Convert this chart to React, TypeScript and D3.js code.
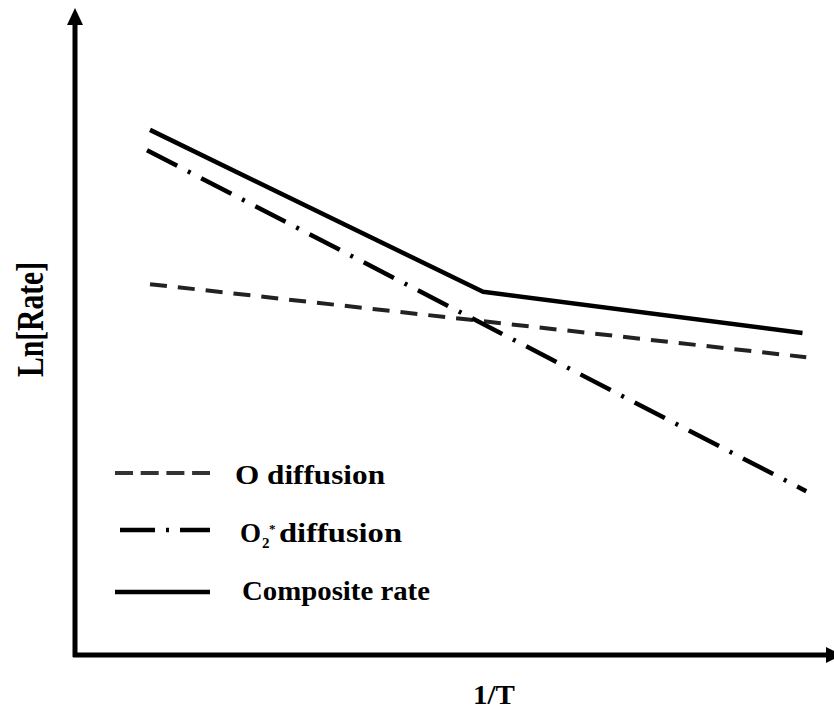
import React from "react";
import * as d3 from "d3";

// Arrhenius-style sketch: ln(rate) versus 1/T in arbitrary units
const compositeRate = [
  { x: 1.0, y: 8.27 },
  { x: 5.44, y: 5.72 },
  { x: 9.7, y: 5.07 },
];
const o2Diffusion = [
  { x: 0.96, y: 7.95 },
  { x: 9.75, y: 2.58 },
];
const oDiffusion = [
  { x: 1.0, y: 5.84 },
  { x: 9.75, y: 4.69 },
];

const legendLabels = ["O diffusion", "O2* diffusion", "Composite rate"];
const xAxisLabel = "1/T";
const yAxisLabel = "Ln[Rate]";

const W = 834;
const H = 710;
const FONT = "'Liberation Serif', 'Times New Roman', serif";

export default function App() {
  const x = d3.scaleLinear().domain([0, 10]).range([75, 825]);
  const y = d3.scaleLinear().domain([0, 10]).range([655, 20]);
  const line = d3
    .line<{ x: number; y: number }>()
    .x((d) => x(d.x))
    .y((d) => y(d.y));

  const axisX0 = x(0);
  const axisY0 = y(0);

  return (
    <svg
      width={W}
      height={H}
      style={{ position: "absolute", left: 0, top: 0, background: "#fff" }}
    >
      {/* axes with arrowheads */}
      <line x1={axisX0} y1={axisY0 + 2} x2={axisX0} y2={22} stroke="#000" strokeWidth={5} />
      <polygon
        points={`${axisX0},8 ${axisX0 - 8},25 ${axisX0 + 8},25`}
        fill="#000"
      />
      <line x1={axisX0 - 2} y1={axisY0} x2={828} y2={axisY0} stroke="#000" strokeWidth={5} />
      <polygon
        points={`${842},${axisY0} ${826},${axisY0 - 8} ${826},${axisY0 + 8}`}
        fill="#000"
      />

      {/* series */}
      <path
        d={line(oDiffusion) ?? ""}
        fill="none"
        stroke="#222"
        strokeWidth={4}
        strokeDasharray="17 11"
      />
      <path
        d={line(o2Diffusion) ?? ""}
        fill="none"
        stroke="#000"
        strokeWidth={4.5}
        strokeDasharray="34 12 3 12"
      />
      <path
        d={line(compositeRate) ?? ""}
        fill="none"
        stroke="#000"
        strokeWidth={4.5}
        strokeLinejoin="round"
      />

      {/* legend */}
      <line x1={115} y1={473} x2={210} y2={473} stroke="#333" strokeWidth={4} strokeDasharray="18 7.7" />
      <text
        x={235}
        y={484}
        fontFamily={FONT}
        fontWeight="bold"
        fontSize={27}
        textLength={150}
        lengthAdjust="spacingAndGlyphs"
      >
        {legendLabels[0]}
      </text>

      <line x1={120} y1={530} x2={210} y2={530} stroke="#000" strokeWidth={4.5} strokeDasharray="35 11 3 11" />
      <text x={240} y={542} fontFamily={FONT} fontWeight="bold" fontSize={27}>
        O
      </text>
      <text x={262} y={548} fontFamily={FONT} fontWeight="bold" fontSize={15}>
        2
      </text>
      <text x={269} y={533} fontFamily={FONT} fontWeight="bold" fontSize={13}>
        *
      </text>
      <text
        x={279}
        y={542}
        fontFamily={FONT}
        fontWeight="bold"
        fontSize={27}
        textLength={123}
        lengthAdjust="spacingAndGlyphs"
      >
        {legendLabels[1].replace("O2* ", "")}
      </text>

      <line x1={115} y1={592} x2={210} y2={592} stroke="#000" strokeWidth={4.5} />
      <text
        x={242}
        y={600}
        fontFamily={FONT}
        fontWeight="bold"
        fontSize={27}
        textLength={188}
        lengthAdjust="spacingAndGlyphs"
      >
        {legendLabels[2]}
      </text>

      {/* axis titles */}
      <text
        x={473}
        y={704}
        fontFamily={FONT}
        fontWeight="bold"
        fontSize={27}
        textLength={42}
        lengthAdjust="spacingAndGlyphs"
      >
        {xAxisLabel}
      </text>
      <text
        transform={`translate(43, 377) rotate(-90)`}
        fontFamily={FONT}
        fontWeight="bold"
        fontSize={38}
        textLength={115}
        lengthAdjust="spacingAndGlyphs"
      >
        {yAxisLabel}
      </text>
    </svg>
  );
}
